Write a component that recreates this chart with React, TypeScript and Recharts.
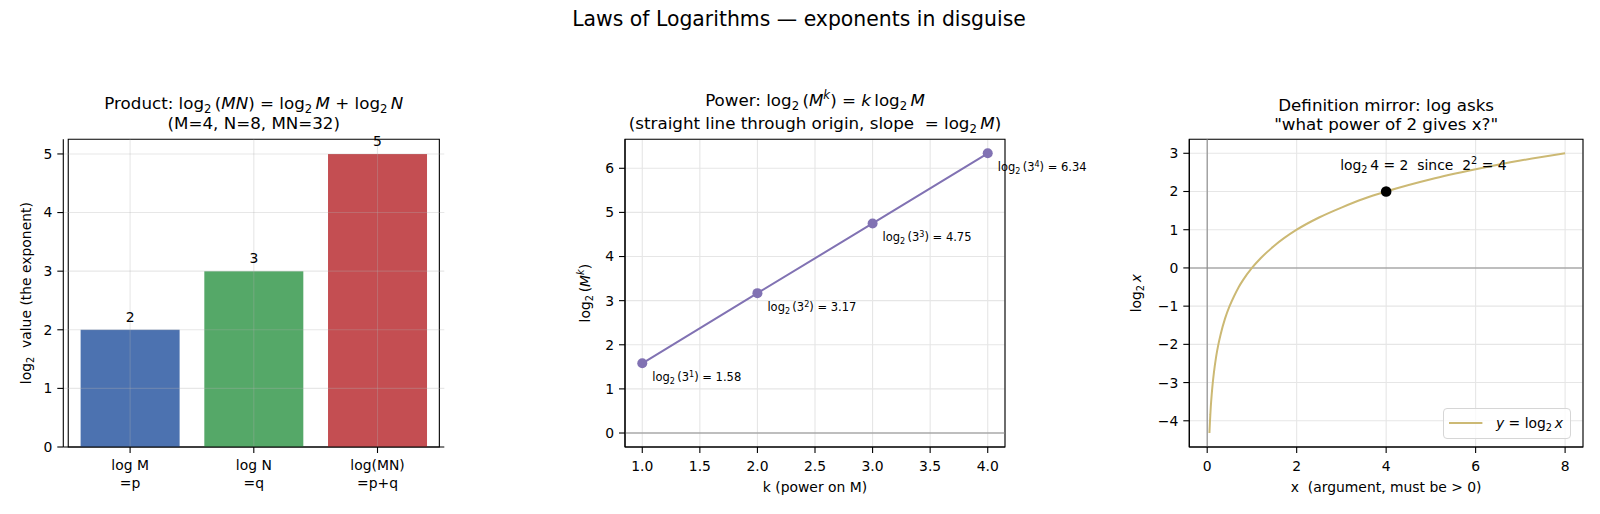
import React from 'react';
import {
  BarChart,
  Bar,
  Cell,
  LineChart,
  Line,
  XAxis,
  YAxis,
  CartesianGrid,
  ReferenceLine,
  ReferenceDot,
  ReferenceArea,
  LabelList,
  Legend,
} from 'recharts';

const FONT = '"DejaVu Sans", Verdana, sans-serif';
const PAGE_W = 1600;
const PAGE_H = 514;

// ---- Product panel data ----
const productCategories = ['log M\n=p', 'log N\n=q', 'log(MN)\n=p+q'];
const productValues = [2, 3, 5];
const productColors = ['#4C72B0', '#55A868', '#C44E52'];
const productTicks = [0, 1, 2, 3, 4, 5];
const productDomain: [number, number] = [0, 5.25];

// ---- Power panel data (M = 3) ----
const powerK = [1, 2, 3, 4];
const powerValues = [1.58, 3.17, 4.75, 6.34];
const powerXTicks = [1, 1.5, 2, 2.5, 3, 3.5, 4];
const powerYTicks = [0, 1, 2, 3, 4, 5, 6];
const powerXDomain: [number, number] = [0.85, 4.15];
const powerYDomain: [number, number] = [-0.317, 6.657];

// ---- Definition panel data: y = log2 x ----
const curveX = [
  0.05, 0.06, 0.07, 0.08, 0.1, 0.12, 0.15, 0.2, 0.25, 0.3, 0.4, 0.5, 0.6, 0.7, 0.8,
  1.0, 1.2, 1.5, 2, 2.5, 3, 3.5, 4, 5, 6, 7, 8,
];
const curveY = [
  -4.32, -4.06, -3.84, -3.64, -3.32, -3.06, -2.74, -2.32, -2.0, -1.74, -1.32, -1.0, -0.74, -0.51, -0.32,
  0, 0.26, 0.58, 1.0, 1.32, 1.58, 1.81, 2.0, 2.32, 2.58, 2.81, 3.0,
];
const markPoint = { x: 4, y: 2 };
const defXTicks = [0, 2, 4, 6, 8];
const defYTicks = [-4, -3, -2, -1, 0, 1, 2, 3];
const defXDomain: [number, number] = [-0.4, 8.4];
const defYDomain: [number, number] = [-4.686, 3.366];

// ---- layout of the three axes boxes (page pixels) ----
const PLOT_TOP = 139.3;
const PLOT_BOTTOM = 447;
const P1 = { left: 63.3, right: 444.3 };
const P2 = { left: 625, right: 1005 };
const P3 = { left: 1189.3, right: 1583 };
const Y_W = 50;
const X_H = 50;

const marginFor = (p: { left: number; right: number }) => ({
  top: PLOT_TOP,
  left: p.left - Y_W,
  right: PAGE_W - p.right,
  bottom: PAGE_H - PLOT_BOTTOM - X_H,
});

const TICK_FS = 13.9;
const tickText = { fontSize: TICK_FS, fontFamily: FONT, fill: '#000' };
const spine = { stroke: '#000', strokeWidth: 1.1 };
const GRID_COLOR = '#e6e6e6';
const ZERO_LINE = '#8a8a8a';

type Seg = { t: string; s?: 'sub' | 'sup'; i?: boolean };

// Renders mathtext-like runs (subscripts, superscripts, italic symbols) as tspans
function mathSpans(segs: Seg[], fs: number) {
  let shift = 0;
  return segs.map((seg, idx) => {
    const target = seg.s === 'sub' ? fs * 0.24 : seg.s === 'sup' ? -fs * 0.4 : 0;
    const dy = target - shift;
    shift = target;
    return (
      <tspan
        key={idx}
        dy={dy !== 0 ? dy : undefined}
        fontSize={seg.s ? fs * 0.7 : undefined}
        fontStyle={seg.i ? 'italic' : undefined}
      >
        {seg.t}
      </tspan>
    );
  });
}

const productData = productCategories.map((c, i) => ({ cat: c, v: productValues[i] }));
const powerData = powerK.map((k, i) => ({ k, v: powerValues[i] }));
const curveData = curveX.map((x, i) => ({ x, y: curveY[i] }));

const minusFmt = (v: number) => (v < 0 ? '\u2212' + Math.abs(v) : String(v));

// Axes frame: the four spines around the plot area
const Frame = (props: { x?: [number, number]; y: [number, number] }) => null;

function ProductTick(props: any) {
  const { x, y, payload } = props;
  const lines = String(payload.value).split('\n');
  return (
    <text x={x} y={y} textAnchor="middle" fontSize={TICK_FS} fontFamily={FONT} fill="#000">
      {lines.map((ln, i) => (
        <tspan key={i} x={x} dy={i === 0 ? 8.8 : 18.3}>
          {ln}
        </tspan>
      ))}
    </text>
  );
}

function ProductPanel() {
  return (
    <BarChart
      width={PAGE_W}
      height={PAGE_H}
      data={productData}
      margin={marginFor(P1)}
      barCategoryGap="10%"
    >
      <XAxis
        dataKey="cat"
        height={X_H}
        padding={{ left: 4.95, right: 4.95 }}
        tick={<ProductTick />}
        tickLine={spine}
        axisLine={spine}
        tickSize={6}
        tickMargin={8}
        interval={0}
      />
      <YAxis
        type="number"
        domain={productDomain}
        ticks={productTicks}
        allowDataOverflow
        width={Y_W}
        tick={tickText}
        tickLine={spine}
        axisLine={spine}
        tickSize={6}
        tickMargin={5}
        interval={0}
      />
      <Bar dataKey="v" isAnimationActive={false}>
        {productData.map((_, i) => (
          <Cell key={i} fill={productColors[i]} />
        ))}
        <LabelList
          dataKey="v"
          content={(p: any) => (
            <text
              x={Number(p.x) + Number(p.width) / 2}
              y={Number(p.y) - 8}
              textAnchor="middle"
              fontSize={TICK_FS}
              fontFamily={FONT}
              fill="#000"
            >
              {p.value}
            </text>
          )}
        />
      </Bar>
      {productTicks.slice(1).map((t) => (
        <ReferenceLine key={'h' + t} y={t} stroke="#b0b0b0" strokeOpacity={0.3} strokeWidth={1.1} />
      ))}
      {productCategories.map((c) => (
        <ReferenceLine key={'v' + c} x={c} stroke="#b0b0b0" strokeOpacity={0.3} strokeWidth={1.1} />
      ))}
      <ReferenceArea
        y1={productDomain[0]}
        y2={productDomain[1]}
        fill="none"
        fillOpacity={0}
        stroke="#000"
        strokeWidth={1.1}
        ifOverflow="visible"
      />
    </BarChart>
  );
}

function PowerLabel(p: any) {
  const k = powerK[p.index];
  const fs = 11.5;
  return (
    <text x={Number(p.x) + 10} y={Number(p.y) + 18} fontSize={fs} fontFamily={FONT} fill="#000">
      {mathSpans(
        [
          { t: 'log' },
          { t: '2', s: 'sub' },
          { t: '\u2009(3' },
          { t: String(k), s: 'sup' },
          { t: ') = ' + Number(p.value).toFixed(2) },
        ],
        fs,
      )}
    </text>
  );
}

function PowerPanel() {
  return (
    <LineChart width={PAGE_W} height={PAGE_H} data={powerData} margin={marginFor(P2)}>
      <CartesianGrid stroke={GRID_COLOR} strokeWidth={1.1} />
      <XAxis
        dataKey="k"
        type="number"
        domain={powerXDomain}
        ticks={powerXTicks}
        allowDataOverflow
        height={X_H}
        tickFormatter={(v: number) => v.toFixed(1)}
        tick={tickText}
        tickLine={spine}
        axisLine={spine}
        tickSize={6}
        tickMargin={8}
        interval={0}
      />
      <YAxis
        type="number"
        domain={powerYDomain}
        ticks={powerYTicks}
        allowDataOverflow
        width={Y_W}
        tick={tickText}
        tickLine={spine}
        axisLine={spine}
        tickSize={6}
        tickMargin={5}
        interval={0}
      />
      <ReferenceLine y={0} stroke={ZERO_LINE} strokeWidth={1.1} />
      <ReferenceArea
        x1={powerXDomain[0]}
        x2={powerXDomain[1]}
        y1={powerYDomain[0]}
        y2={powerYDomain[1]}
        fill="none"
        fillOpacity={0}
        stroke="#000"
        strokeWidth={1.1}
        ifOverflow="visible"
      />
      <Line
        dataKey="v"
        type="linear"
        stroke="#8172B3"
        strokeWidth={2}
        dot={{ r: 5, fill: '#8172B3', stroke: 'none' }}
        isAnimationActive={false}
      >
        <LabelList dataKey="v" content={<PowerLabel />} />
      </Line>
    </LineChart>
  );
}

function DefinitionLegend() {
  return (
    <div
      style={{
        display: 'flex',
        alignItems: 'center',
        boxSizing: 'border-box',
        height: 31.6,
        padding: '0 7px 0 5.6px',
        border: '1px solid #d6d6d6',
        borderRadius: 4,
        background: 'rgba(255,255,255,0.8)',
        fontFamily: FONT,
        fontSize: TICK_FS,
        color: '#000',
        whiteSpace: 'pre',
      }}
    >
      <svg width={33.4} height={4} style={{ marginRight: 13.3 }}>
        <line x1={0} y1={2} x2={33.4} y2={2} stroke="#CCB974" strokeWidth={2} />
      </svg>
      <span>
        <i>y</i> = log
        <span style={{ fontSize: '0.7em', position: 'relative', top: '0.3em' }}>2</span>
        {'\u2009'}
        <i>x</i>
      </span>
    </div>
  );
}

function DefinitionPanel() {
  return (
    <LineChart width={PAGE_W} height={PAGE_H} data={curveData} margin={marginFor(P3)}>
      <CartesianGrid stroke={GRID_COLOR} strokeWidth={1.1} />
      <XAxis
        dataKey="x"
        type="number"
        domain={defXDomain}
        ticks={defXTicks}
        allowDataOverflow
        height={X_H}
        tick={tickText}
        tickLine={spine}
        axisLine={spine}
        tickSize={6}
        tickMargin={8}
        interval={0}
      />
      <YAxis
        type="number"
        domain={defYDomain}
        ticks={defYTicks}
        allowDataOverflow
        width={Y_W}
        tickFormatter={minusFmt}
        tick={tickText}
        tickLine={spine}
        axisLine={spine}
        tickSize={6}
        tickMargin={5}
        interval={0}
      />
      <ReferenceLine y={0} stroke={ZERO_LINE} strokeWidth={1.1} />
      <ReferenceLine x={0} stroke={ZERO_LINE} strokeWidth={1.1} />
      <ReferenceArea
        x1={defXDomain[0]}
        x2={defXDomain[1]}
        y1={defYDomain[0]}
        y2={defYDomain[1]}
        fill="none"
        fillOpacity={0}
        stroke="#000"
        strokeWidth={1.1}
        ifOverflow="visible"
      />
      <Line
        dataKey="y"
        type="monotone"
        stroke="#CCB974"
        strokeWidth={2}
        dot={false}
        isAnimationActive={false}
      />
      <ReferenceDot
        x={markPoint.x}
        y={markPoint.y}
        r={5.3}
        fill="#000"
        stroke="none"
        label={(p: any) => {
          const vb = p.viewBox || {};
          const cx = Number(vb.x) + Number(vb.width || 0) / 2;
          const cy = Number(vb.y) + Number(vb.height || 0) / 2;
          return (
            <text x={cx - 46} y={cy - 21.5} fontSize={TICK_FS} fontFamily={FONT} fill="#000" style={{ whiteSpace: 'pre' }}>
              {mathSpans(
                [
                  { t: 'log' },
                  { t: '2', s: 'sub' },
                  { t: '\u2009' + markPoint.x + ' = ' + markPoint.y + '  since  2' },
                  { t: String(markPoint.y), s: 'sup' },
                  { t: ' = ' + markPoint.x },
                ],
                TICK_FS,
              )}
            </text>
          );
        }}
      />
      <Legend
        verticalAlign="middle"
        align="center"
        layout="horizontal"
        content={() => <DefinitionLegend />}
        wrapperStyle={{ left: 1442.7, top: 407.7, width: 'auto', height: 'auto' }}
      />
    </LineChart>
  );
}

const TITLE_FS = 16.7;

function Titles() {
  const c1 = (P1.left + P1.right) / 2;
  const c2 = (P2.left + P2.right) / 2;
  const c3 = (P3.left + P3.right) / 2;
  const midY = (PLOT_TOP + PLOT_BOTTOM) / 2;
  return (
    <svg
      width={PAGE_W}
      height={PAGE_H}
      style={{ position: 'absolute', left: 0, top: 0, pointerEvents: 'none' }}
      fontFamily={FONT}
      fill="#000"
    >
      <text x={799} y={26} textAnchor="middle" fontSize={20.4}>
        Laws of Logarithms — exponents in disguise
      </text>

      <text x={c1} y={109.3} textAnchor="middle" fontSize={TITLE_FS}>
        {mathSpans(
          [
            { t: 'Product: log' },
            { t: '2', s: 'sub' },
            { t: '\u2009(' },
            { t: 'MN', i: true },
            { t: ') = log' },
            { t: '2', s: 'sub' },
            { t: '\u2009' },
            { t: 'M', i: true },
            { t: ' + log' },
            { t: '2', s: 'sub' },
            { t: '\u2009' },
            { t: 'N', i: true },
          ],
          TITLE_FS,
        )}
      </text>
      <text x={c1} y={129.3} textAnchor="middle" fontSize={TITLE_FS}>
        (M=4, N=8, MN=32)
      </text>

      <text x={c2} y={106} textAnchor="middle" fontSize={TITLE_FS}>
        {mathSpans(
          [
            { t: 'Power: log' },
            { t: '2', s: 'sub' },
            { t: '\u2009(' },
            { t: 'M', i: true },
            { t: 'k', s: 'sup', i: true },
            { t: ') = ' },
            { t: 'k', i: true },
            { t: '\u2009log' },
            { t: '2', s: 'sub' },
            { t: '\u2009' },
            { t: 'M', i: true },
          ],
          TITLE_FS,
        )}
      </text>
      <text x={c2} y={129.3} textAnchor="middle" fontSize={TITLE_FS} style={{ whiteSpace: 'pre' }}>
        {mathSpans(
          [
            { t: '(straight line through origin, slope  = log' },
            { t: '2', s: 'sub' },
            { t: '\u2009' },
            { t: 'M', i: true },
            { t: ')' },
          ],
          TITLE_FS,
        )}
      </text>

      <text x={c3} y={110.7} textAnchor="middle" fontSize={TITLE_FS}>
        Definition mirror: log asks
      </text>
      <text x={c3} y={130} textAnchor="middle" fontSize={TITLE_FS}>
        "what power of 2 gives x?"
      </text>

      {/* axis labels */}
      <text
        transform={`translate(30.5 ${midY}) rotate(-90)`}
        textAnchor="middle"
        fontSize={TICK_FS}
        style={{ whiteSpace: 'pre' }}
      >
        {mathSpans([{ t: 'log' }, { t: '2', s: 'sub' }, { t: '  value (the exponent)' }], TICK_FS)}
      </text>
      <text transform={`translate(589.9 ${midY}) rotate(-90)`} textAnchor="middle" fontSize={TICK_FS}>
        {mathSpans(
          [
            { t: 'log' },
            { t: '2', s: 'sub' },
            { t: '\u2009(' },
            { t: 'M', i: true },
            { t: 'k', s: 'sup', i: true },
            { t: ')' },
          ],
          TICK_FS,
        )}
      </text>
      <text transform={`translate(1141 ${midY}) rotate(-90)`} textAnchor="middle" fontSize={TICK_FS}>
        {mathSpans([{ t: 'log' }, { t: '2', s: 'sub' }, { t: '\u2009' }, { t: 'x', i: true }], TICK_FS)}
      </text>

      <text x={c2} y={492} textAnchor="middle" fontSize={TICK_FS}>
        k (power on M)
      </text>
      <text x={c3} y={492} textAnchor="middle" fontSize={TICK_FS} style={{ whiteSpace: 'pre' }}>
        x  (argument, must be &gt; 0)
      </text>
    </svg>
  );
}

const layer: React.CSSProperties = { position: 'absolute', left: 0, top: 0 };

export default function App() {
  return (
    <div style={{ position: 'absolute', left: 0, top: 0, width: PAGE_W, height: PAGE_H, background: '#fff', fontFamily: FONT }}>
      <div style={layer}>
        <ProductPanel />
      </div>
      <div style={layer}>
        <PowerPanel />
      </div>
      <div style={layer}>
        <DefinitionPanel />
      </div>
      <Titles />
    </div>
  );
}
